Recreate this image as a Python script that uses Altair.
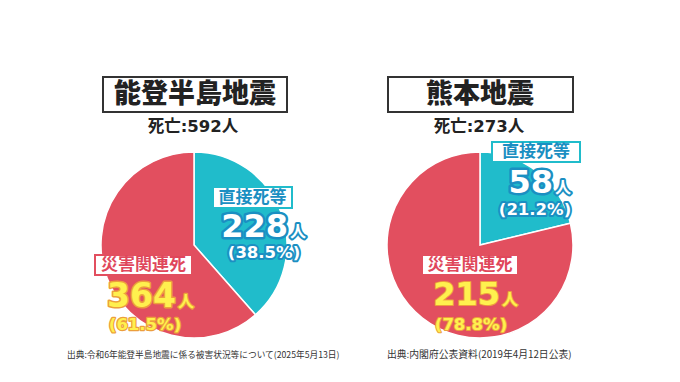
import altair as alt
import pandas as pd

# ---- data ----
categories = ["直接死等", "災害関連死"]
noto_values = [228, 364]
noto_pcts = ["(38.5%)", "(61.5%)"]
kuma_values = [58, 215]
kuma_pcts = ["(21.2%)", "(78.8%)"]
titles = ["能登半島地震", "熊本地震"]
totals = ["死亡:592人", "死亡:273人"]
unit = "人"
sources = [
    "出典:令和6年能登半島地震に係る被害状況等について(2025年5月13日)",
    "出典:内閣府公表資料(2019年4月12日公表)",
]

CYAN = "#20bccb"
RED = "#e24f5f"
BLUE_TXT = "#1b8fc2"
RED_TXT = "#e0475b"
YELLOW = "#fff04e"
ORANGE = "#ec9f3c"
JP = "Noto Sans CJK JP"
NUM = "DejaVu Sans, Noto Sans CJK JP"


def one(t):
    return pd.DataFrame({"t": [t]})


def pie(values, cx, cy):
    df = pd.DataFrame({"cat": categories, "val": values, "ord": [0, 1]})
    return alt.Chart(df).mark_arc(radius=93, stroke="white", strokeWidth=1.5).encode(
        theta=alt.Theta("val:Q", stack=True),
        order=alt.Order("ord:Q"),
        color=alt.Color("cat:N", scale=alt.Scale(domain=categories, range=[CYAN, RED]), legend=None),
        x=alt.value(cx),
        y=alt.value(cy),
    )


def box(x1, x2, y1, y2, stroke, sw=2):
    return alt.Chart(one("")).mark_rect(fill="white", stroke=stroke, strokeWidth=sw).encode(
        x=alt.value(x1), x2=alt.value(x2), y=alt.value(y1), y2=alt.value(y2)
    )


def txt(t, x, y, size, color, align="center", baseline="middle", weight="bold", font=JP):
    return alt.Chart(one(t)).mark_text(
        font=font, fontSize=size, fontWeight=weight, color=color, align=align, baseline=baseline
    ).encode(text="t:N", x=alt.value(x), y=alt.value(y))


def outlined(t, x, y, size, fill, stroke, sw, align="center", baseline="alphabetic", font=NUM):
    base = dict(font=font, fontSize=size, fontWeight="bold", align=align, baseline=baseline)
    s = alt.Chart(one(t)).mark_text(
        **base, color=stroke, stroke=stroke, strokeWidth=sw, strokeJoin="round"
    ).encode(text="t:N", x=alt.value(x), y=alt.value(y))
    f = alt.Chart(one(t)).mark_text(**base, color=fill).encode(
        text="t:N", x=alt.value(x), y=alt.value(y)
    )
    return [s, f]


layers = []
# pies
layers.append(pie(noto_values, 186, 237))
layers.append(pie(kuma_values, 472, 237))

# titles
layers.append(box(95, 279, 69, 104, "#333333", 2))
layers.append(txt(titles[0], 187, 87, 27, "#222222", weight=900))
layers.append(txt(totals[0], 185, 119, 16.5, "#222222", font=NUM))
layers.append(box(380, 565, 69, 104, "#333333", 2))
layers.append(txt(titles[1], 472, 87, 27, "#222222", weight=900))
layers.append(txt(totals[1], 471, 119, 16.5, "#222222", font=NUM))

# left pie labels
layers.append(box(205, 284, 179, 200, CYAN, 2))
layers.append(txt(categories[0], 244.5, 189.5, 17, BLUE_TXT))
layers += outlined(str(noto_values[0]), 280, 229, 32, "white", BLUE_TXT, 5, align="right")
layers += outlined(unit, 282, 229, 16, "white", BLUE_TXT, 4, align="left", font=JP)
layers += outlined(noto_pcts[0], 256, 250, 16.5, "white", BLUE_TXT, 4)

layers.append(box(87, 184, 247, 267, RED, 2))
layers.append(txt(categories[1], 135.5, 257, 17, RED_TXT))
layers += outlined(str(noto_values[1]), 168, 299, 33, YELLOW, ORANGE, 3, align="right")
layers += outlined(unit, 170, 299, 16, YELLOW, ORANGE, 2.5, align="left", font=JP)
layers += outlined(noto_pcts[1], 137, 322, 16.5, YELLOW, ORANGE, 2.5)

# right pie labels
layers.append(box(484, 572, 134, 154, CYAN, 2))
layers.append(txt(categories[0], 528, 144, 17, BLUE_TXT))
layers += outlined(str(kuma_values[0]), 545, 185, 32, "white", BLUE_TXT, 5, align="right")
layers += outlined(unit, 547, 185, 16, "white", BLUE_TXT, 4, align="left", font=JP)
layers += outlined(kuma_pcts[0], 527, 207, 16.5, "white", BLUE_TXT, 4)

layers.append(box(414, 510, 247, 267, RED, 2))
layers.append(txt(categories[1], 462, 257, 17, RED_TXT))
layers += outlined(str(kuma_values[1]), 492, 297, 32, YELLOW, ORANGE, 2, align="right")
layers += outlined(unit, 494, 297, 16, YELLOW, ORANGE, 2, align="left", font=JP)
layers += outlined(kuma_pcts[1], 463, 322, 16.5, YELLOW, ORANGE, 2)

# sources
layers.append(txt(sources[0], 59, 350, 8.7, "#333333", align="left", baseline="alphabetic", weight="normal"))
layers.append(txt(sources[1], 379, 350, 9.8, "#333333", align="left", baseline="alphabetic", weight="normal"))

chart = (
    alt.layer(*layers)
    .resolve_scale(theta="independent")
    .properties(width=664, height=366, padding=0, background="white",
                autosize=alt.AutoSizeParams(type="none"))
    .configure_view(stroke=None)
)

chart.save("out.html", embed_options={"renderer": "svg", "actions": False})
